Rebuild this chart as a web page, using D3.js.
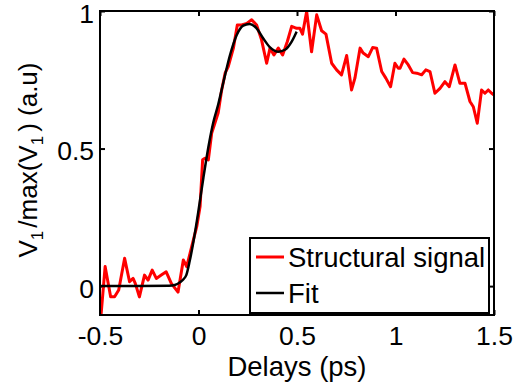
<!DOCTYPE html>
<html>
<head>
<meta charset="utf-8">
<script src="https://cdn.jsdelivr.net/npm/d3@7"></script>
<style>
  body { margin: 0; background: #fff; }
  svg { font-family: "Liberation Sans", Arial, Helvetica, sans-serif; }
</style>
</head>
<body>
<svg id="chart" width="516" height="385"></svg>
<script>
// structural signal (red)
const signalDelay = [-0.5, -0.474, -0.446, -0.426, -0.405, -0.375, -0.35, -0.332, -0.321, -0.30,
  -0.274, -0.256, -0.235, -0.214, -0.189, -0.164, -0.138, -0.104, -0.077, -0.060,
  -0.043, -0.026, -0.009, 0.008, 0.021, 0.033, 0.050, 0.067, 0.083, 0.100,
  0.117, 0.135, 0.151, 0.177, 0.197, 0.219, 0.245, 0.270, 0.295, 0.320,
  0.346, 0.363, 0.383, 0.405, 0.427, 0.451, 0.473, 0.498, 0.515, 0.528,
  0.549, 0.574, 0.600, 0.625, 0.647, 0.676, 0.701, 0.726, 0.752, 0.777,
  0.794, 0.820, 0.836, 0.862, 0.884, 0.904, 0.930, 0.951, 0.975, 0.997,
  1.014, 1.023, 1.043, 1.065, 1.087, 1.108, 1.133, 1.154, 1.175, 1.200,
  1.226, 1.251, 1.273, 1.302, 1.327, 1.353, 1.378, 1.395, 1.415, 1.437,
  1.454, 1.471, 1.488, 1.5];
const signalValue = [-0.15, 0.071, -0.039, -0.039, -0.014, 0.101, 0.016, 0.028, 0.010, -0.039,
  0.040, 0.022, 0.058, 0.028, 0.040, 0.052, 0.010, -0.022, 0.095, 0.071,
  0.119, 0.168, 0.216, 0.289, 0.459, 0.465, 0.459, 0.556, 0.592, 0.630,
  0.710, 0.774, 0.798, 0.865, 0.949, 0.949, 0.955, 0.968, 0.949, 0.895,
  0.810, 0.865, 0.840, 0.865, 0.840, 0.889, 0.944, 0.937, 0.937, 0.916,
  0.998, 0.852, 0.986, 0.928, 0.916, 0.810, 0.786, 0.768, 0.838, 0.713,
  0.756, 0.865, 0.847, 0.834, 0.867, 0.865, 0.780, 0.756, 0.725, 0.810,
  0.792, 0.792, 0.825, 0.804, 0.776, 0.774, 0.768, 0.786, 0.780, 0.701,
  0.719, 0.743, 0.725, 0.804, 0.737, 0.737, 0.671, 0.652, 0.592, 0.713,
  0.701, 0.713, 0.701, 0.695];

// fit (black)
const fitDelay = [-0.5, -0.3, -0.15, -0.12, -0.094, -0.075, -0.062, -0.045, -0.026, 0,
  0.025, 0.05, 0.075, 0.1, 0.126, 0.16, 0.194, 0.227, 0.258, 0.295,
  0.328, 0.363, 0.405, 0.439, 0.473, 0.498];
const fitValue = [0, 0, 0.001, 0.004, 0.014, 0.026, 0.04, 0.09, 0.16, 0.275,
  0.395, 0.505, 0.595, 0.66, 0.74, 0.84, 0.913, 0.947, 0.953, 0.937,
  0.901, 0.868, 0.852, 0.859, 0.889, 0.925];

const xTicks = [-0.5, 0, 0.5, 1, 1.5];
const yTicks = [0, 0.5, 1];
const legendLabels = ["Structural signal", "Fit"];

const margin = { top: 11, right: 22, bottom: 70, left: 100 };
const width = 516 - margin.left - margin.right;
const height = 385 - margin.top - margin.bottom;
const tickFont = 26.5;
const labelFont = 27.5;

const svg = d3.select("#chart");
const g = svg.append("g").attr("transform", `translate(${margin.left},${margin.top})`);

const x = d3.scaleLinear().domain([-0.5, 1.5]).range([0, width]);
const y = d3.scaleLinear().domain([-0.105, 1]).range([height, 0]);

g.append("clipPath").attr("id", "clip")
  .append("rect").attr("width", width).attr("height", height);

const fmt = d => String(d);

// axes on all four sides, ticks pointing inwards
const xb = g.append("g").attr("transform", `translate(0,${height})`)
  .call(d3.axisBottom(x).tickValues(xTicks).tickFormat(fmt).tickSizeInner(-5).tickSizeOuter(0).tickPadding(11));
const xt = g.append("g")
  .call(d3.axisTop(x).tickValues(xTicks).tickFormat("").tickSizeInner(-5).tickSizeOuter(0));
const yl = g.append("g")
  .call(d3.axisLeft(y).tickValues(yTicks).tickFormat(fmt).tickSizeInner(-5).tickSizeOuter(0).tickPadding(6));
const yr = g.append("g").attr("transform", `translate(${width},0)`)
  .call(d3.axisRight(y).tickValues(yTicks).tickFormat("").tickSizeInner(-5).tickSizeOuter(0));

[xb, xt, yl, yr].forEach(a => {
  a.select(".domain").remove();
  a.selectAll(".tick line").attr("stroke", "#000").attr("stroke-width", 2);
  a.selectAll(".tick text").attr("fill", "#000").style("font-size", tickFont + "px")
    .style("font-family", "'Liberation Sans', Arial, sans-serif");
});
yl.selectAll(".tick text").attr("dy", "0.42em");

// lines
const pts = (xs, ys) => xs.map((d, i) => [d, ys[i]]);
const line = d3.line().x(d => x(d[0])).y(d => y(d[1]));

g.append("path")
  .attr("clip-path", "url(#clip)")
  .attr("d", line(pts(signalDelay, signalValue)))
  .attr("fill", "none").attr("stroke", "#ff0000").attr("stroke-width", 3)
  .attr("stroke-linejoin", "round");

g.append("path")
  .attr("clip-path", "url(#clip)")
  .attr("d", line.curve(d3.curveMonotoneX)(pts(fitDelay, fitValue)))
  .attr("fill", "none").attr("stroke", "#000").attr("stroke-width", 2.5);

// frame
g.append("rect").attr("width", width).attr("height", height)
  .attr("fill", "none").attr("stroke", "#000").attr("stroke-width", 2);

// legend
const legend = g.append("g").attr("transform", "translate(150,227)");
legend.append("rect").attr("width", 239).attr("height", 75)
  .attr("fill", "#fff").attr("stroke", "#000").attr("stroke-width", 2);
const legendColors = ["#ff0000", "#000"];
legendLabels.forEach((lab, i) => {
  const cy = 19 + i * 36;
  legend.append("line").attr("x1", 6).attr("x2", 34).attr("y1", cy).attr("y2", cy)
    .attr("stroke", legendColors[i]).attr("stroke-width", i === 0 ? 3 : 2.5);
  legend.append("text").attr("x", 38).attr("y", cy).attr("dy", "0.36em")
    .style("font-size", labelFont + "px").text(lab);
});

// axis titles
svg.append("text")
  .attr("x", margin.left + width / 2).attr("y", 376)
  .attr("text-anchor", "middle").style("font-size", labelFont + "px")
  .text("Delays (ps)");

const yt = svg.append("text")
  .attr("transform", "translate(37,160) rotate(-90)")
  .attr("text-anchor", "middle").style("font-size", "26px");
yt.append("tspan").text("V");
yt.append("tspan").attr("dy", 6).style("font-size", "17px").text("1");
yt.append("tspan").attr("dy", -6).attr("dx", 3).text("/max(V");
yt.append("tspan").attr("dy", 6).style("font-size", "17px").text("1");
yt.append("tspan").attr("dy", -6).attr("dx", 4).text(") (a.u)");
</script>
</body>
</html>
